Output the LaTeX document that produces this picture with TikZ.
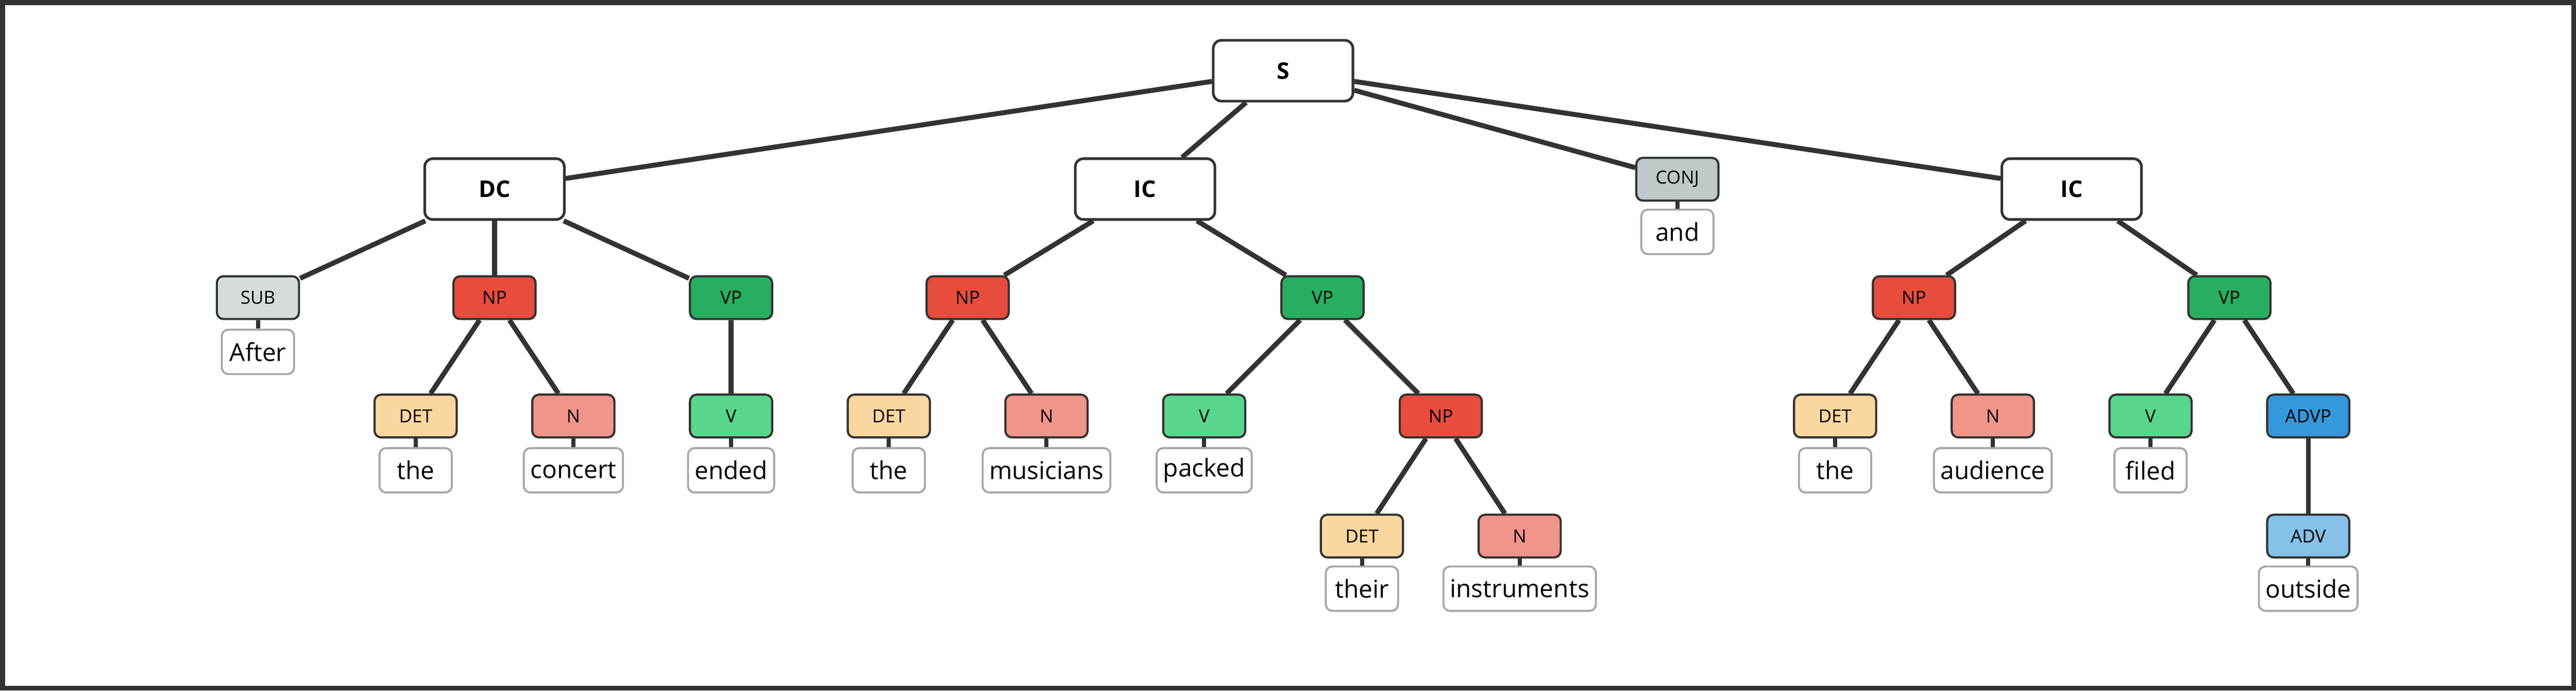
\documentclass[tikz,border=0pt]{standalone}
\usepackage{fontspec}
\setmainfont{Open Sans}
\definecolor{EdgeGray}{HTML}{333333}
\definecolor{SubFill}{HTML}{D5DBDB}
\definecolor{ConjFill}{HTML}{BFC9CA}
\definecolor{NPFill}{HTML}{E74C3C}
\definecolor{VPFill}{HTML}{27AE60}
\definecolor{DetFill}{HTML}{FAD7A0}
\definecolor{NFill}{HTML}{F1948A}
\definecolor{VFill}{HTML}{58D68D}
\definecolor{AdvpFill}{HTML}{3498DB}
\definecolor{AdvFill}{HTML}{85C1E9}
\definecolor{WordLine}{HTML}{A6A6A6}
\tikzset{
    clause/.style={draw=EdgeGray, line width=1.6pt, rounded corners=5pt, fill=white,
        minimum width=85pt, minimum height=37pt, font=\fontsize{14}{16}\selectfont\bfseries},
    tag/.style={draw=EdgeGray, line width=1.3pt, rounded corners=4pt, fill=#1,
        minimum width=50pt, minimum height=26pt, inner sep=2pt, font=\fontsize{11}{13}\selectfont},
    word/.style={draw=WordLine, line width=1.2pt, rounded corners=4pt, fill=white,
        minimum width=44pt, minimum height=27pt, inner sep=4pt, font=\fontsize{15}{17}\selectfont},
    branch/.style={draw=EdgeGray, line width=3pt},
}
\begin{document}
\begin{tikzpicture}[x=1pt, y=-1pt]

    \draw[EdgeGray, line width=3pt] (1.5,1.5) rectangle (1566.5,418.5);
    \useasboundingbox (0,0) rectangle (1568,420);

    % top level
    \node[clause] (S) at (781,43) {S};
    \node[clause] (DC) at (301,115) {DC};
    \node[clause] (ICa) at (697,115) {IC};
    \node[tag=ConjFill] (CONJ) at (1021,109) {CONJ};
    \node[word] (wAnd) at (1021,141) {and};
    \node[clause] (ICb) at (1261,115) {IC};

    % dependent clause
    \node[tag=SubFill] (SUB) at (157,181) {SUB};
    \node[word] (wAfter) at (157,214) {After};
    \node[tag=NPFill] (NPa) at (301,181) {NP};
    \node[tag=VPFill] (VPa) at (445,181) {VP};
    \node[tag=DetFill] (DETa) at (253,253) {DET};
    \node[tag=NFill] (Na) at (349,253) {N};
    \node[tag=VFill] (Va) at (445,253) {V};
    \node[word] (wThea) at (253,286) {the};
    \node[word] (wConcert) at (349,286) {concert};
    \node[word] (wEnded) at (445,286) {ended};

    % first independent clause
    \node[tag=NPFill] (NPb) at (589,181) {NP};
    \node[tag=VPFill] (VPb) at (805,181) {VP};
    \node[tag=DetFill] (DETb) at (541,253) {DET};
    \node[tag=NFill] (Nb) at (637,253) {N};
    \node[tag=VFill] (Vb) at (733,253) {V};
    \node[tag=NPFill] (NPc) at (877,253) {NP};
    \node[word] (wTheb) at (541,286) {the};
    \node[word] (wMusicians) at (637,286) {musicians};
    \node[word] (wPacked) at (733,286) {packed};
    \node[tag=DetFill] (DETc) at (829,326) {DET};
    \node[tag=NFill] (Nc) at (925,326) {N};
    \node[word] (wTheir) at (829,358) {their};
    \node[word] (wInstruments) at (925,358) {instruments};

    % second independent clause
    \node[tag=NPFill] (NPd) at (1165,181) {NP};
    \node[tag=VPFill] (VPd) at (1357,181) {VP};
    \node[tag=DetFill] (DETd) at (1117,253) {DET};
    \node[tag=NFill] (Nd) at (1213,253) {N};
    \node[tag=VFill] (Vd) at (1309,253) {V};
    \node[tag=AdvpFill] (ADVP) at (1405,253) {ADVP};
    \node[tag=AdvFill] (ADV) at (1405,326) {ADV};
    \node[word] (wThed) at (1117,286) {the};
    \node[word] (wAudience) at (1213,286) {audience};
    \node[word] (wFiled) at (1309,286) {filed};
    \node[word] (wOutside) at (1405,358) {outside};

    \foreach \p/\c in {S/DC, S/ICa, S/CONJ, S/ICb, DC/SUB, DC/NPa, DC/VPa,
        NPa/DETa, NPa/Na, VPa/Va, ICa/NPb, ICa/VPb, NPb/DETb, NPb/Nb,
        VPb/Vb, VPb/NPc, NPc/DETc, NPc/Nc, ICb/NPd, ICb/VPd, NPd/DETd,
        NPd/Nd, VPd/Vd, VPd/ADVP, ADVP/ADV}
        \draw[branch] (\p) -- (\c);
    \foreach \t/\w in {SUB/wAfter, CONJ/wAnd, DETa/wThea, Na/wConcert,
        Va/wEnded, DETb/wTheb, Nb/wMusicians, Vb/wPacked, DETc/wTheir,
        Nc/wInstruments, DETd/wThed, Nd/wAudience, Vd/wFiled, ADV/wOutside}
        \draw[EdgeGray, line width=2.5pt] (\t) -- (\w);

\end{tikzpicture}
\end{document}
